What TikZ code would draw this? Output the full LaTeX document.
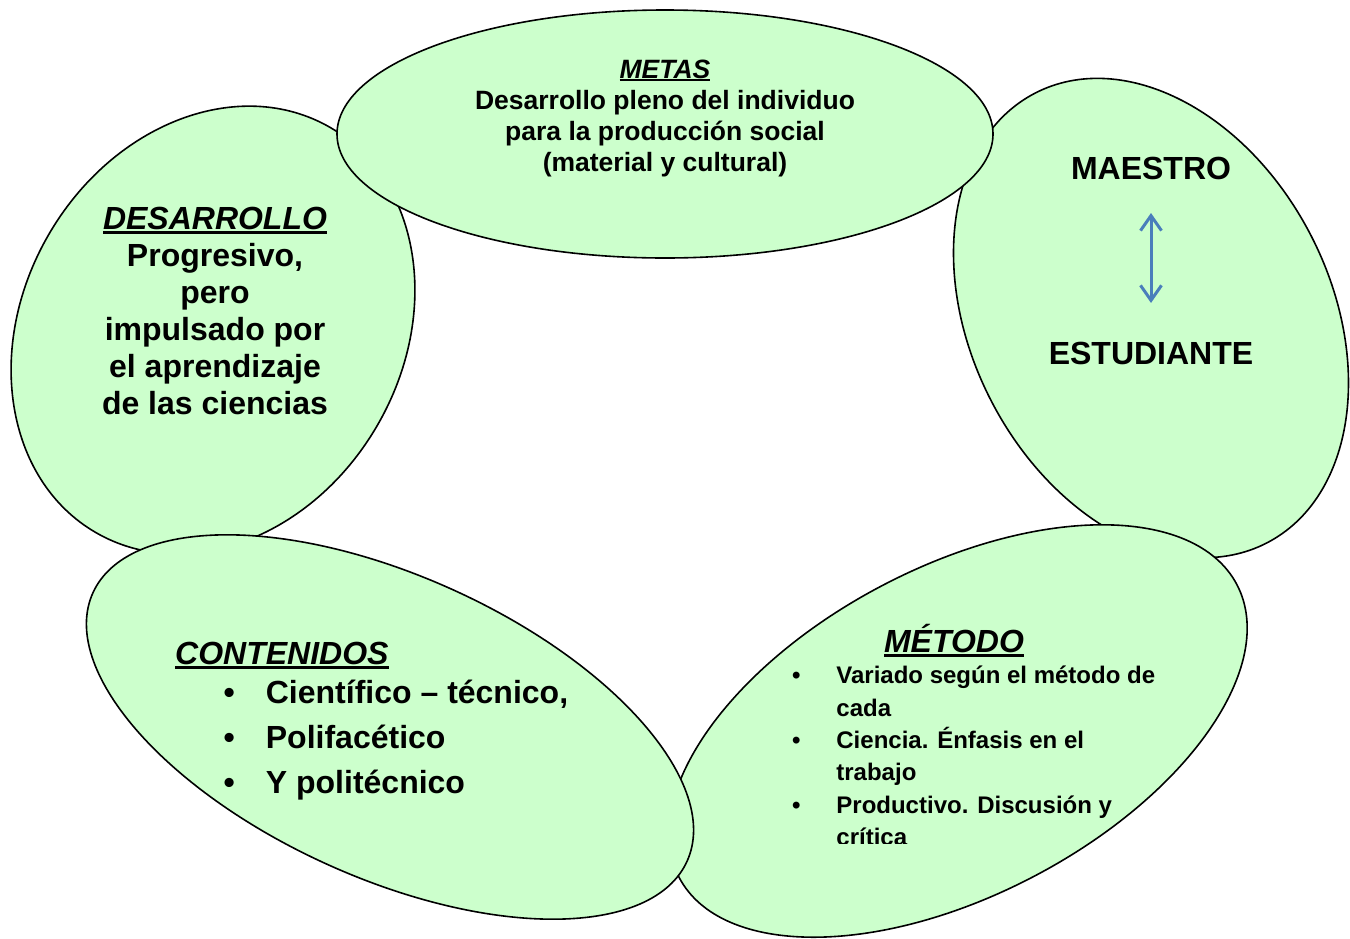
\documentclass[tikz,border=0pt]{standalone}
\usepackage{fontspec}
\setmainfont{Liberation Sans}
\usepackage{tikz}
\usetikzlibrary{arrows.meta, positioning}

\definecolor{bubblegreen}{HTML}{CCFFCC}
\definecolor{arrowblue}{HTML}{4A7EBB}

% underlined italic heading
\newcommand{\undertitle}[1]{\setbox0=\hbox{\itshape #1}\rlap{\rule[-0.13em]{\wd0}{0.075em}}\box0}

\tikzset{
    bubble/.style={draw=black, line width=1.6pt, fill=bubblegreen},
    bigtext/.style={font=\bfseries\fontsize{32}{37}\selectfont, align=center, inner sep=0pt},
    smalltext/.style={font=\bfseries\fontsize{26.5}{31}\selectfont, align=center, inner sep=0pt},
    updown/.style={{Straight Barb[length=15pt,width=21pt,line width=3pt]}-{Straight Barb[length=15pt,width=21pt,line width=3pt]}, draw=arrowblue, line width=3pt}
}

\begin{document}
\begin{tikzpicture}[x=1pt, y=1pt]
    \useasboundingbox (0,0) rectangle (1350,-938);

    % the five bubbles, back to front
    \draw[bubble, rotate around={60:(213,-330)}] (213,-330) ellipse (234pt and 190pt);
    \draw[bubble, rotate around={-62.8:(1151,-318)}] (1151,-318) ellipse (253pt and 180pt);
    \draw[bubble, rotate around={27.7:(958,-731)}] (958,-731) ellipse (315pt and 164pt);
    \draw[bubble, rotate around={-24.3:(390,-727)}] (390,-727) ellipse (326pt and 151pt);
    \draw[bubble] (665,-134) ellipse (328pt and 124pt);

    % metas
    \node[smalltext] (metas) at (665,-118) {\undertitle{METAS}\\Desarrollo pleno del individuo\\para la producción social\\(material y cultural)};

    % desarrollo
    \node[bigtext] (desarrollo) at (215,-311) {\undertitle{DESARROLLO}\\Progresivo,\\pero\\impulsado por\\el aprendizaje\\de las ciencias};

    % maestro <-> estudiante
    \node[bigtext, anchor=base] (maestro) at (1151,-179.5) {MAESTRO};
    \node[bigtext, anchor=base] (estudiante) at (1151,-364.5) {ESTUDIANTE};
    \draw[updown, shorten <=33pt, shorten >=39pt] (maestro.south) -- (estudiante.north);

    % contenidos
    \node[bigtext, anchor=base west] (contenidos) at (175,-664.5) {\undertitle{CONTENIDOS}};
    \node[font=\bfseries\fontsize{32}{45}\selectfont, inner sep=0pt, anchor=base west] (contlist) at (223.5,-703.5)
        {\begin{tabular}[t]{@{}l@{\hspace{31pt}}l@{}}
            \textbullet & Científico – técnico,\\
            \textbullet & Polifacético\\
            \textbullet & Y politécnico
        \end{tabular}};

    % metodo
    \node[bigtext, anchor=base] (metodo) at (954,-652.5) {\undertitle{MÉTODO}};
    \begin{scope}
        \clip (760,-600) rectangle (1230,-843);
        \node[font=\bfseries\fontsize{24}{32.4}\selectfont, inner sep=0pt, anchor=base west] (metlist) at (791.8,-683.6)
            {\begin{tabular}[t]{@{}l@{\hspace{36pt}}l@{}}
                \textbullet & Variado según el método de\\
                 & cada\\
                \textbullet & Ciencia. Énfasis en el\\
                 & trabajo\\
                \textbullet & Productivo. Discusión y\\
                 & crítica
            \end{tabular}};
    \end{scope}
\end{tikzpicture}
\end{document}
